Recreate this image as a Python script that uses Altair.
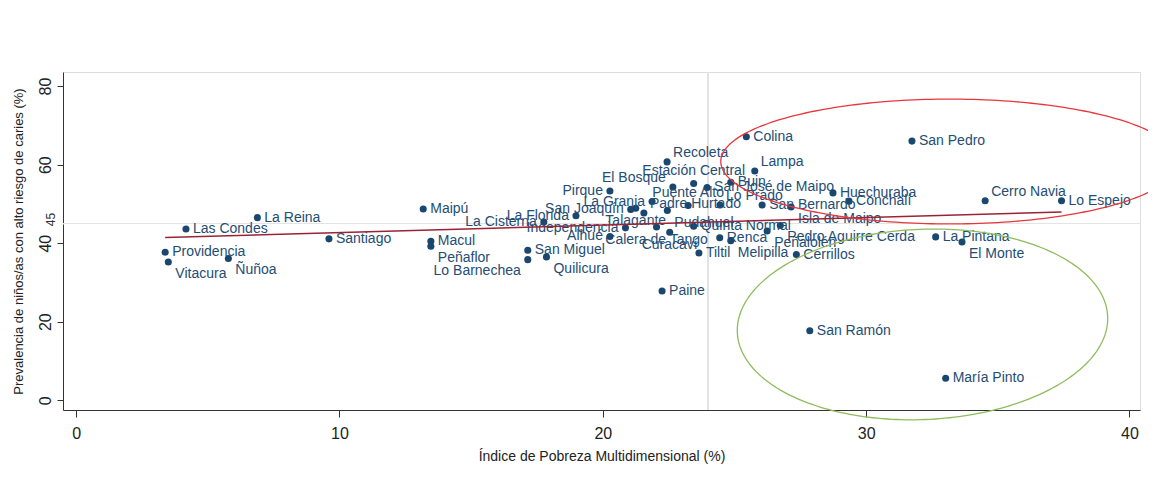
import altair as alt
import pandas as pd
import numpy as np

comunas = ["Providencia", "Vitacura", "Las Condes", "Ñuñoa", "La Reina", "Santiago", "Maipú",
           "Macul", "Peñaflor", "San Miguel", "Lo Barnechea", "Quilicura", "La Cisterna",
           "La Florida", "Pirque", "Alhué", "Independencia", "San Joaquín", "Talagante",
           "Padre Hurtado", "La Granja", "Calera de Tango", "Recoleta", "Pudahuel", "Curacaví",
           "El Bosque", "Puente Alto", "Estación Central", "Quinta Normal", "Tiltil",
           "San José de Maipo", "Lo Prado", "Renca", "Buin", "Melipilla", "Colina", "Lampa",
           "San Bernardo", "Peñalolén", "Pedro Aguirre Cerda", "Isla de Maipo", "Cerrillos",
           "Huechuraba", "Conchalí", "San Pedro", "Cerro Navia", "Lo Espejo", "La Pintana",
           "El Monte", "Paine", "San Ramón", "María Pinto"]
ipm = [3.38, 3.50, 4.17, 5.78, 6.88, 9.60, 13.18, 13.47, 13.47, 17.15, 17.15, 17.86, 17.76,
       18.98, 20.27, 20.27, 20.86, 21.06, 21.25, 21.56, 21.87, 22.04, 22.44, 22.45, 22.54,
       22.66, 23.24, 23.45, 23.45, 23.65, 23.96, 24.45, 24.44, 24.86, 24.86, 25.45, 25.77,
       26.05, 26.24, 26.74, 27.15, 27.35, 28.74, 29.35, 31.74, 34.52, 37.42, 32.64, 33.64,
       22.25, 27.86, 33.02]
prevalencia = [37.7, 35.2, 43.6, 36.1, 46.5, 41.1, 48.7, 40.5, 39.2, 38.2, 35.8, 36.5, 45.4,
               47.0, 53.3, 41.7, 43.9, 48.6, 48.9, 47.7, 50.6, 44.1, 60.7, 48.3, 42.8, 54.3,
               49.6, 55.2, 44.3, 37.5, 54.2, 49.7, 41.4, 55.5, 40.6, 67.1, 58.4, 49.7, 43.1,
               44.5, 49.2, 37.1, 52.8, 50.7, 66.0, 50.8, 50.8, 41.6, 40.3, 27.8, 17.7, 5.6]
# label position (clock position, as in Stata's mlabvposition)
label_pos = [3, 4, 3, 4, 3, 3, 3, 3, 4, 3, 8, 4, 9, 9, 9, 9, 9, 9, 6, 2, 9, 6, 2, 4, 6, 10,
             12, 12, 3, 3, 3, 2, 3, 3, 4, 3, 2, 3, 4, 4, 4, 3, 3, 3, 3, 2, 3, 3, 4, 3, 3, 3]

x_ticks = [0, 10, 20, 30, 40]
y_ticks = [0, 20, 40, 60, 80]
ref_x = 24
ref_y = 45

# annotation ellipses (center x, center y, radius x, radius y, x-shear per unit of y)
red_ellipse = (33.17, 60.8, 8.69, 15.9, 0.0)
green_ellipse = (32.14, 19.3, 7.02, 24.3, 0.018)

df = pd.DataFrame({"comuna": comunas, "ipm": ipm, "prev": prevalencia, "pos": label_pos})

def ellipse_df(params, name):
    cx, cy, rx, ry, sh = params
    t = np.linspace(0, 2 * np.pi, 241)
    ys = cy + ry * np.sin(t)
    xs = cx + rx * np.cos(t) + sh * (ys - cy)
    return pd.DataFrame({"ex": xs, "ey": ys, "t": np.arange(len(t)), "name": name})

ell = pd.concat([ellipse_df(red_ellipse, "red"), ellipse_df(green_ellipse, "green")])

NAVY = "#1a476f"
FONT = "Liberation Sans"

x_scale = alt.Scale(domain=[-0.5, 40.4], nice=False, zero=False)
y_scale = alt.Scale(domain=[-2.5, 83.6], nice=False, zero=False)

x_axis = alt.Axis(values=x_ticks, title="Índice de Pobreza Multidimensional (%)", grid=False,
                  domainColor="#333333", tickColor="#333333", tickSize=7, labelPadding=8,
                  labelFontSize=16, labelColor="#222222", titleFontSize=14, titleFontWeight="normal",
                  titleColor="#222222", titlePadding=8, labelFont=FONT, titleFont=FONT)
y_axis = alt.Axis(values=y_ticks, title="Prevalencia de niños/as con alto riesgo de caries (%)",
                  grid=False, domainColor="#333333", tickColor="#333333", tickSize=6,
                  labelAngle=270, labelAlign="center", labelBaseline="bottom", labelPadding=4,
                  labelFontSize=16, labelColor="#222222", titleFontSize=13, titleFontWeight="normal",
                  titleColor="#222222", titlePadding=12, labelFont=FONT, titleFont=FONT)

X = alt.X("ipm:Q", scale=x_scale, axis=x_axis)
Y = alt.Y("prev:Q", scale=y_scale, axis=y_axis)

base = alt.Chart(df)

vline = alt.Chart(df).mark_rule(color="#e4e4e4", strokeWidth=1).encode(x=alt.datum(ref_x, scale=x_scale))
hline = alt.Chart(df).mark_rule(color="#e4e4e4", strokeWidth=1).encode(y=alt.datum(ref_y, scale=y_scale))

label45 = alt.Chart(pd.DataFrame({"v": [ref_y]})).mark_text(
    angle=270, fontSize=12, font=FONT, color="#333333", align="center", baseline="middle", dx=4
).encode(y=alt.Y("v:Q", scale=y_scale), x=alt.value(-12), text=alt.value("45"))

points = base.mark_circle(size=50, color=NAVY, opacity=1).encode(x=X, y=Y)

specs = {
    3: dict(dx=7, dy=0, align="left"),
    9: dict(dx=-7, dy=0, align="right"),
    2: dict(dx=6, dy=-9, align="left"),
    4: dict(dx=7, dy=12, align="left"),
    8: dict(dx=-7, dy=11, align="right"),
    10: dict(dx=-7, dy=-9, align="right"),
    12: dict(dx=0, dy=-12, align="center"),
    6: dict(dx=0, dy=13, align="center"),
}
label_layers = []
for code, s in specs.items():
    label_layers.append(
        base.transform_filter(alt.datum.pos == code).mark_text(
            fontSize=14, font=FONT, color="#244d74", baseline="middle", **s
        ).encode(x=X, y=Y, text="comuna:N")
    )

fit = base.transform_regression("ipm", "prev").mark_line(color="#9b2335", strokeWidth=1.6).encode(x=X, y=Y)

red = alt.Chart(ell[ell["name"] == "red"]).mark_line(color="#e8373c", strokeWidth=1.3).encode(
    x=alt.X("ex:Q", scale=x_scale), y=alt.Y("ey:Q", scale=y_scale), order="t:Q")
green = alt.Chart(ell[ell["name"] == "green"]).mark_line(color="#8fbc5c", strokeWidth=1.3).encode(
    x=alt.X("ex:Q", scale=x_scale), y=alt.Y("ey:Q", scale=y_scale), order="t:Q")

chart = alt.layer(vline, hline, label45, points, *label_layers, fit, red, green).properties(
    width=1077, height=338,
    autosize=alt.AutoSizeParams(type="none"),
    padding={"left": 55, "top": 64, "right": 8, "bottom": 70},
).configure_view(stroke=None).configure(font=FONT)

chart.save("out.html", embed_options={"renderer": "svg", "actions": False})
